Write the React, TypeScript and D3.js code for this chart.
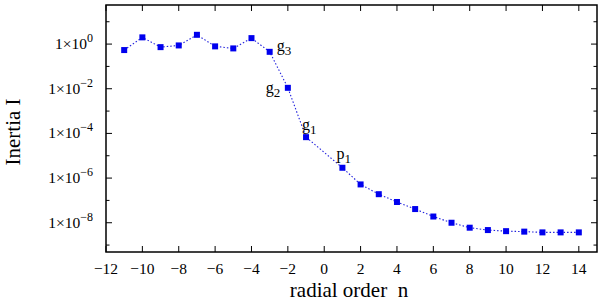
import { useEffect, useRef } from "react";
import * as d3 from "d3";

const orders = [-11, -10, -9, -8, -7, -6, -5, -4, -3, -2, -1, 1, 2, 3, 4, 5, 6, 7, 8, 9, 10, 11, 12, 13, 14];
const inertia = [
  0.54, 2.0, 0.73, 0.87, 2.6, 0.79, 0.64, 1.85, 0.45, 0.011, 6.8e-5,
  2.9e-6, 5.2e-7, 1.9e-7, 8.5e-8, 4.1e-8, 1.9e-8, 1.0e-8, 6.0e-9, 4.7e-9,
  4.2e-9, 4.0e-9, 3.7e-9, 3.7e-9, 3.7e-9,
];
const xTicks = [-12, -10, -8, -6, -4, -2, 0, 2, 4, 6, 8, 10, 12, 14];
const yMajor = [0, -2, -4, -6, -8];
const yMinor = [1, -1, -3, -5, -7, -9];
const modeLabels = [
  { n: -3, base: "g", sub: "3" },
  { n: -2, base: "g", sub: "2" },
  { n: -1, base: "g", sub: "1" },
  { n: 1, base: "p", sub: "1" },
];

const W = 600;
const H = 305;
const m = { left: 106, right: 3, top: 5, bottom: 53 };
const font = "'Liberation Serif', 'DejaVu Serif', serif";
const minus = (s: string) => s.replace("-", "\u2212");

export default function App(): JSX.Element {
  const ref = useRef<SVGSVGElement | null>(null);

  useEffect(() => {
    if (!ref.current) return;
    const svg = d3.select(ref.current);
    svg.selectAll("*").remove();

    const x = d3.scaleLinear().domain([-12, 15]).range([m.left, W - m.right]);
    const y = d3
      .scaleLog()
      .domain([Math.pow(10, -9.31), Math.pow(10, 1.75)])
      .range([H - m.bottom, m.top]);

    const x0 = m.left, x1 = W - m.right, y0 = H - m.bottom, y1 = m.top;
    const g = svg.append("g");

    // frame
    g.append("rect")
      .attr("x", x0).attr("y", y1)
      .attr("width", x1 - x0).attr("height", y0 - y1)
      .attr("fill", "none").attr("stroke", "#000").attr("stroke-width", 1.5);

    // x ticks, bottom and top, pointing inward
    xTicks.forEach((t) => {
      const px = x(t);
      g.append("line").attr("x1", px).attr("x2", px).attr("y1", y0).attr("y2", y0 - 6)
        .attr("stroke", "#000").attr("stroke-width", 1);
      g.append("line").attr("x1", px).attr("x2", px).attr("y1", y1).attr("y2", y1 + 6)
        .attr("stroke", "#000").attr("stroke-width", 1);
      g.append("text").attr("x", px).attr("y", y0 + 22)
        .attr("text-anchor", "middle").attr("font-family", font).attr("font-size", 15.5)
        .text(minus(String(t)));
    });

    // y ticks
    [...yMajor.map((e) => [e, 6]), ...yMinor.map((e) => [e, 3.5])].forEach(([e, len]) => {
      const py = y(Math.pow(10, e));
      g.append("line").attr("x1", x0).attr("x2", x0 + len).attr("y1", py).attr("y2", py)
        .attr("stroke", "#000").attr("stroke-width", 1);
      g.append("line").attr("x1", x1).attr("x2", x1 - len).attr("y1", py).attr("y2", py)
        .attr("stroke", "#000").attr("stroke-width", 1);
    });

    yMajor.forEach((e) => {
      const py = y(Math.pow(10, e));
      const t = g.append("text").attr("x", 93).attr("y", py + 5)
        .attr("text-anchor", "end").attr("font-family", font).attr("font-size", 15.5);
      t.append("tspan").text("1\u00d710");
      t.append("tspan").attr("dy", -7).attr("font-size", 12).text(minus(String(e)));
    });

    // line + markers
    const line = d3.line<number>()
      .x((_, i) => x(orders[i]))
      .y((d) => y(d));
    g.append("path").attr("d", line(inertia))
      .attr("fill", "none").attr("stroke", "#2222dd").attr("stroke-width", 1.1)
      .attr("stroke-dasharray", "1.5,2");

    g.selectAll("rect.pt").data(inertia).join("rect").attr("class", "pt")
      .attr("x", (_, i) => x(orders[i]) - 3)
      .attr("y", (d) => y(d) - 3)
      .attr("width", 6).attr("height", 6)
      .attr("fill", "#0000ee");

    // mode labels
    const offs: Record<string, [number, number]> = {
      "g3": [7, -1], "g2": [-22, 5], "g1": [-4, -7], "p1": [-6, -9],
    };
    modeLabels.forEach((l) => {
      const i = orders.indexOf(l.n);
      const [dx, dy] = offs[l.base + l.sub];
      const t = g.append("text")
        .attr("x", x(orders[i]) + dx).attr("y", y(inertia[i]) + dy)
        .attr("font-family", font).attr("font-size", 16);
      t.append("tspan").text(l.base);
      t.append("tspan").attr("dy", 4).attr("font-size", 13).text(l.sub);
    });

    // axis titles
    g.append("text").attr("x", 349).attr("y", 297)
      .attr("text-anchor", "middle").attr("font-family", font).attr("font-size", 21)
      .attr("xml:space", "preserve")
      .text("radial order  n");
    g.append("text")
      .attr("transform", `translate(20, 132) rotate(-90)`)
      .attr("text-anchor", "middle").attr("font-family", font).attr("font-size", 21)
      .text("Inertia I");
  }, []);

  return (
    <svg
      ref={ref}
      width={W}
      height={H}
      style={{ position: "absolute", left: 0, top: 0, background: "#fff" }}
    />
  );
}
